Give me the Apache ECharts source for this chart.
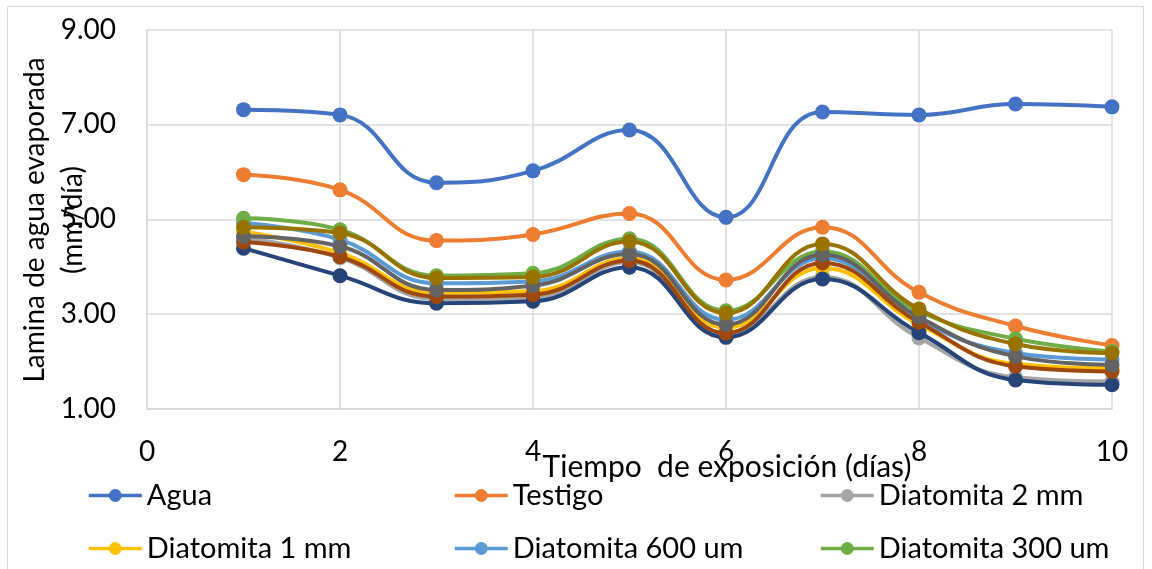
<!DOCTYPE html>
<html>
<head>
<meta charset="utf-8">
<script src="https://cdn.jsdelivr.net/npm/echarts@6/dist/echarts.min.js"></script>
<style>
  html, body { margin: 0; padding: 0; background: #fff; }
  #chart { width: 1152px; height: 569px; }
</style>
</head>
<body>
<div id="chart"></div>
<script>
// Días de exposición
const days = [1, 2, 3, 4, 5, 6, 7, 8, 9, 10];

// Lámina de agua evaporada (mm/día) por tratamiento
const agua          = [7.31, 7.20, 5.77, 6.02, 6.88, 5.04, 7.26, 7.20, 7.43, 7.37];
const testigo       = [5.94, 5.62, 4.55, 4.68, 5.12, 3.72, 4.83, 3.46, 2.75, 2.34];
const diat2mm       = [4.61, 4.19, 3.32, 3.34, 4.10, 2.57, 3.79, 2.50, 1.67, 1.58];
const diat1mm       = [4.74, 4.29, 3.45, 3.48, 4.18, 2.71, 3.97, 2.78, 1.95, 1.86];
const diat600       = [4.92, 4.57, 3.65, 3.69, 4.32, 2.88, 4.18, 2.88, 2.18, 2.04];
const diat300       = [5.02, 4.78, 3.81, 3.86, 4.59, 3.07, 4.32, 3.06, 2.48, 2.21];
const serie7        = [4.39, 3.81, 3.23, 3.27, 3.99, 2.51, 3.74, 2.61, 1.61, 1.51];
const serie8        = [4.52, 4.21, 3.37, 3.41, 4.13, 2.60, 4.08, 2.83, 1.90, 1.79];
const serie9        = [4.64, 4.43, 3.51, 3.60, 4.27, 2.78, 4.25, 2.94, 2.11, 1.93];
const serie10       = [4.83, 4.71, 3.76, 3.78, 4.53, 3.02, 4.48, 3.11, 2.37, 2.18];

const seriesNames = ['Agua', 'Testigo', 'Diatomita 2 mm', 'Diatomita 1 mm',
  'Diatomita 600 um', 'Diatomita 300 um', 'Serie 7', 'Serie 8', 'Serie 9', 'Serie 10'];
const seriesValues = [agua, testigo, diat2mm, diat1mm, diat600, diat300,
  serie7, serie8, serie9, serie10];
const seriesColors = ['#4472C4', '#ED7D31', '#A5A5A5', '#FFC000', '#5B9BD5',
  '#70AD47', '#264478', '#9E480E', '#636363', '#997300'];

// Axis ticks
const yTicks = { min: 1, max: 9, step: 2 };
const xTicks = { min: 0, max: 10, step: 2 };

const xTitle = 'Tiempo  de exposición (días)';
const yTitle = 'Lamina de agua evaporada\n(mm/día)';

const FONT = 'Lato';
const FS = 28;

const series = seriesNames.map((name, i) => ({
  name: name,
  type: 'line',
  smooth: 0.45,
  symbol: 'circle',
  symbolSize: 15,
  showSymbol: true,
  data: days.map((d, k) => [d, seriesValues[i][k]]),
  lineStyle: { width: 4, color: seriesColors[i] },
  itemStyle: { color: seriesColors[i] },
  emphasis: { disabled: true },
  z: 2 + i
}));

// Legend: three equal columns, two visible rows
const legendSlots = [
  [87, 481], [453, 481], [819, 481],
  [87, 534], [453, 534], [819, 534]
];
const legends = legendSlots.map((pos, i) => ({
  data: [seriesNames[i]],
  left: pos[0],
  top: pos[1],
  orient: 'horizontal',
  itemWidth: 53,
  itemHeight: 16,
  selectedMode: false,
  padding: 0,
  lineStyle: { width: 3.5 },
  textStyle: { fontFamily: FONT, fontSize: 29, color: '#000', lineHeight: 28 }
}));

const chart = echarts.init(document.getElementById('chart'), null, { renderer: 'canvas' });
chart.setOption({
  animation: false,
  backgroundColor: '#fff',
  color: seriesColors,
  grid: {
    left: 147, right: 40, top: 29.5, bottom: 160,
    containLabel: false,
    outerBoundsMode: 'none'
  },
  legend: legends,
  xAxis: {
    type: 'value',
    min: xTicks.min, max: xTicks.max, interval: xTicks.step,
    axisLine: { show: true, lineStyle: { color: '#D9D9D9', width: 1.5 } },
    axisTick: { show: false },
    splitLine: { show: true, lineStyle: { color: '#D9D9D9', width: 1.5 } },
    axisLabel: { fontFamily: FONT, fontSize: FS, color: '#000', margin: 29, hideOverlap: false }
  },
  yAxis: {
    type: 'value',
    min: yTicks.min, max: yTicks.max, interval: yTicks.step,
    axisLine: { show: true, lineStyle: { color: '#D9D9D9', width: 1.5 } },
    axisTick: { show: false },
    splitLine: { show: true, lineStyle: { color: '#D9D9D9', width: 1.5 } },
    axisLabel: {
      fontFamily: FONT, fontSize: FS, color: '#000', margin: 31, hideOverlap: false,
      formatter: v => v.toFixed(2)
    }
  },
  graphic: [
    {
      type: 'rect', silent: true, z: -10,
      shape: { x: 7.5, y: 6.5, width: 1136, height: 620 },
      style: { fill: 'none', stroke: '#D9D9D9', lineWidth: 1 }
    },
    {
      type: 'text', silent: true, z: 100,
      x: 54, y: 220, rotation: Math.PI / 2,
      style: {
        text: yTitle, fontFamily: FONT, fontSize: FS, fill: '#000',
        align: 'center', verticalAlign: 'middle', lineHeight: 38
      }
    },
    {
      type: 'text', silent: true, z: 100,
      x: 727, y: 467,
      style: {
        text: xTitle, fontFamily: FONT, fontSize: 30, fill: '#000',
        align: 'center', verticalAlign: 'middle'
      }
    }
  ],
  series: series
});
</script>
</body>
</html>
